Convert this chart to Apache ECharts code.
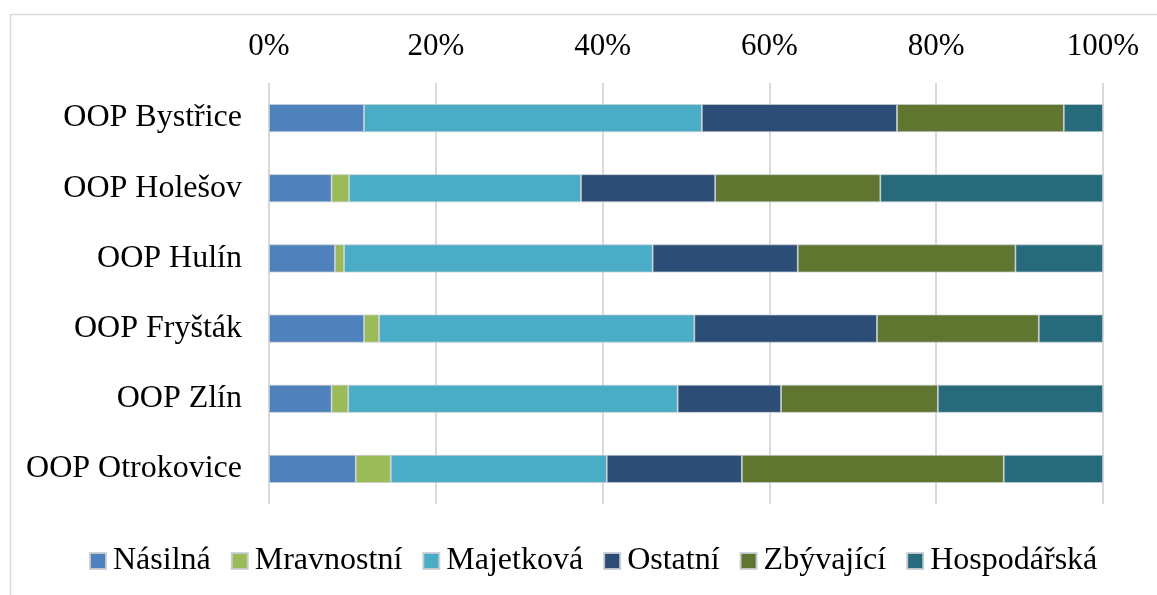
<!DOCTYPE html>
<html>
<head>
<meta charset="utf-8">
<script src="https://cdn.jsdelivr.net/npm/echarts@6/dist/echarts.min.js"></script>
<style>
  html, body { margin: 0; padding: 0; background: #fff; }
  #chart { width: 1157px; height: 595px; }
</style>
</head>
<body>
<div id="chart"></div>
<script>
// categories top -> bottom
var categories = ['OOP Bystřice', 'OOP Holešov', 'OOP Hulín', 'OOP Fryšták', 'OOP Zlín', 'OOP Otrokovice']
var tickLabels = ['0%', '20%', '40%', '60%', '80%', '100%']

// share in % per category
var nasilna     = [11.4, 7.5, 7.9, 11.4, 7.5, 10.4]
var mravnostni  = [0, 2.1, 1.1, 1.8, 2.0, 4.2]
var majetkova   = [40.5, 27.8, 37.0, 37.8, 39.5, 25.9]
var ostatni     = [23.4, 16.1, 17.4, 21.9, 12.4, 16.2]
var zbyvajici   = [20.0, 19.8, 26.1, 19.4, 18.8, 31.4]
var hospodarska = [4.7, 26.7, 10.5, 7.7, 19.8, 11.9]

var font = '"Liberation Serif", "Times New Roman", serif'

var chart = echarts.init(document.getElementById('chart'))

function bar(name, data, color) {
  return {
    name: name,
    type: 'bar',
    stack: 'total',
    data: data,
    barWidth: 28,
    itemStyle: {
      color: color,
      borderColor: 'rgba(200,206,212,0.9)',
      borderWidth: 0.8
    },
    animation: false
  }
}

chart.setOption({
  textStyle: { fontFamily: font },
  graphic: [{
    type: 'rect',
    left: 8,
    top: 12,
    shape: { width: 1300, height: 700 },
    style: { fill: 'none', stroke: '#d9d9d9', lineWidth: 1.5 },
    silent: true
  }],
  grid: {
    left: 269,
    right: 54,
    top: 83,
    bottom: 91
  },
  xAxis: {
    type: 'value',
    position: 'top',
    min: 0,
    max: 100,
    interval: 20,
    axisLine: { show: false },
    axisTick: { show: false },
    splitLine: { lineStyle: { color: '#d9d9d9', width: 2 } },
    axisLabel: {
      margin: 21,
      fontSize: 31,
      color: '#000',
      fontFamily: font,
      formatter: function (v) { return tickLabels[Math.round(v / 20)] }
    }
  },
  yAxis: {
    type: 'category',
    inverse: true,
    data: categories,
    axisLine: { show: false },
    axisTick: { show: false },
    axisLabel: {
      margin: 27,
      fontSize: 32,
      color: '#000',
      fontFamily: font,
      padding: [4, 0, 0, 0]
    }
  },
  legend: {
    top: 540,
    left: 84,
    itemWidth: 16,
    itemHeight: 16,
    itemGap: 20,
    icon: 'rect',
    textStyle: { fontSize: 32, color: '#000', fontFamily: font, padding: [0, 0, 0, 2] },
    data: ['Násilná', 'Mravnostní', 'Majetková', 'Ostatní', 'Zbývající', 'Hospodářská']
  },
  series: [
    bar('Násilná', nasilna, '#4F81BD'),
    bar('Mravnostní', mravnostni, '#9BBB59'),
    bar('Majetková', majetkova, '#4BACC6'),
    bar('Ostatní', ostatni, '#2C4D75'),
    bar('Zbývající', zbyvajici, '#5F7530'),
    bar('Hospodářská', hospodarska, '#276A7C')
  ]
})
</script>
</body>
</html>
